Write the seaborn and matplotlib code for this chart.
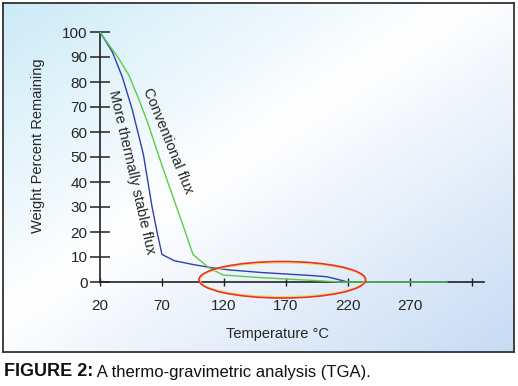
import numpy as np
import pandas as pd
import matplotlib
matplotlib.use("Agg")
import matplotlib.pyplot as plt
from matplotlib.patches import Ellipse
import seaborn as sns

# values (temperature in °C, weight %)
stable_temp = [20, 30, 38, 46, 51, 55, 58, 62, 66, 70, 80, 95, 110, 125, 150, 170, 190, 203, 212, 220, 300]
stable_wt = [100, 92, 82, 69, 59, 51, 42, 30, 20, 11, 8.5, 7, 5.7, 4.8, 3.8, 3.2, 2.6, 2.1, 1, 0, 0]

conv_temp = [20, 27, 35, 43, 51, 59, 67, 76, 86, 95, 107, 119, 145, 170, 200, 212, 300]
conv_wt = [100, 95, 89.5, 83, 73.5, 63, 51, 38, 24, 11, 6, 2.8, 1.9, 1.2, 0.4, 0, 0]

x_ticks = [20, 70, 120, 170, 220, 270, 320]
x_ticklabels = ["20", "70", "120", "170", "220", "270", ""]
y_ticks = [0, 10, 20, 30, 40, 50, 60, 70, 80, 90, 100]

df = pd.concat([
    pd.DataFrame({"temp": stable_temp, "wt": stable_wt, "flux": "stable"}),
    pd.DataFrame({"temp": conv_temp, "wt": conv_wt, "flux": "conventional"}),
])

sns.set_style("white")
plt.rcParams["font.family"] = ["Liberation Sans", "DejaVu Sans"]

fig = plt.figure(figsize=(5.18, 3.86), dpi=100)

# background panel with soft blue gradient and frame
W, H = 518, 386
bg = fig.add_axes([3 / W, (H - 352) / H, 511 / W, 349 / H])
gx, gy = np.meshgrid(np.linspace(0, 1, 200), np.linspace(0, 1, 150))
t = (gx + gy) / 2
c0 = np.array([0.80, 0.92, 0.97])
c1 = np.array([1.0, 1.0, 1.0])
c2 = np.array([0.78, 0.86, 0.96])
a = np.clip(t / 0.45, 0, 1)[..., None]
b = np.clip((t - 0.45) / 0.55, 0, 1)[..., None]
img = np.where(t[..., None] < 0.45, c0 + (c1 - c0) * a, c1 + (c2 - c1) * b)
bg.imshow(img, aspect="auto", extent=[0, 1, 0, 1], origin="upper")
bg.set_xlim(0, 1)
bg.set_ylim(0, 1)
bg.set_xticks([])
bg.set_yticks([])
for s in bg.spines.values():
    s.set_color("#333333")
    s.set_linewidth(1.3)

ax = fig.add_axes([87.6 / W, 66.5 / H, 409.2 / W, 300 / H])
ax.patch.set_alpha(0)

sns.lineplot(data=df, x="temp", y="wt", hue="flux", sort=False, estimator=None,
             palette={"stable": "#2f3fb0", "conventional": "#5ccc48"},
             linewidth=1.0, legend=False, ax=ax)

ax.set_xlim(10, 340)
ax.set_ylim(-15, 105)

for side in ["top", "right"]:
    ax.spines[side].set_visible(False)
ax.spines["left"].set_position(("data", 20))
ax.spines["bottom"].set_position(("data", 0))
ax.spines["left"].set_bounds(0, 100)
ax.spines["bottom"].set_bounds(20, 330)
for side in ["left", "bottom"]:
    ax.spines[side].set_color("#222222")
    ax.spines[side].set_linewidth(1.2)
    ax.spines[side].set_zorder(1)

ax.set_xticks(x_ticks)
ax.set_xticklabels(x_ticklabels)
ax.set_yticks(y_ticks)
ax.tick_params(axis="y", direction="inout", length=14, width=1.1, color="#222222",
               labelsize=11, pad=2, left=True)
ax.tick_params(axis="x", direction="inout", length=6, width=1.0, color="#222222",
               labelsize=11, pad=9, bottom=True)

ax.set_xlabel("Temperature °C", fontsize=10.5)
ax.xaxis.set_label_coords((277 - 87.6) / 409.2, (H - 327 - 66.5) / 300)
ax.set_ylabel("Weight Percent Remaining", fontsize=10.5)
ax.yaxis.set_label_coords((45 - 87.6) / 409.2, 0.5 + (H - 146 - 66.5 - 150) / 300)

ax.text(74.8, 56.4, "Conventional flux", rotation=-68, rotation_mode="anchor",
        ha="center", va="center", fontsize=10.5)
ax.text(45.4, 43.8, "More thermally stable flux", rotation=-77, rotation_mode="anchor",
        ha="center", va="center", fontsize=10.5)

ax.add_patch(Ellipse((167, 0.9), 132.5, 13.4, fill=False, edgecolor="#f2dc50",
                     linewidth=0.8, zorder=3))
ax.add_patch(Ellipse((167, 0.9), 134.5, 14.6, fill=False, edgecolor="#e8302c",
                     linewidth=1.2, zorder=4))

t1 = fig.text(4 / W, (H - 372) / H, "FIGURE 2:", fontsize=13, fontweight="heavy",
              ha="left", va="center", color="#111111")
bg.annotate(" A thermo-gravimetric analysis (TGA).", xy=(1, 0), xycoords=t1,
            ha="left", va="bottom", fontsize=12, color="#111111",
            annotation_clip=False)

fig.savefig("out.png", dpi=100)
